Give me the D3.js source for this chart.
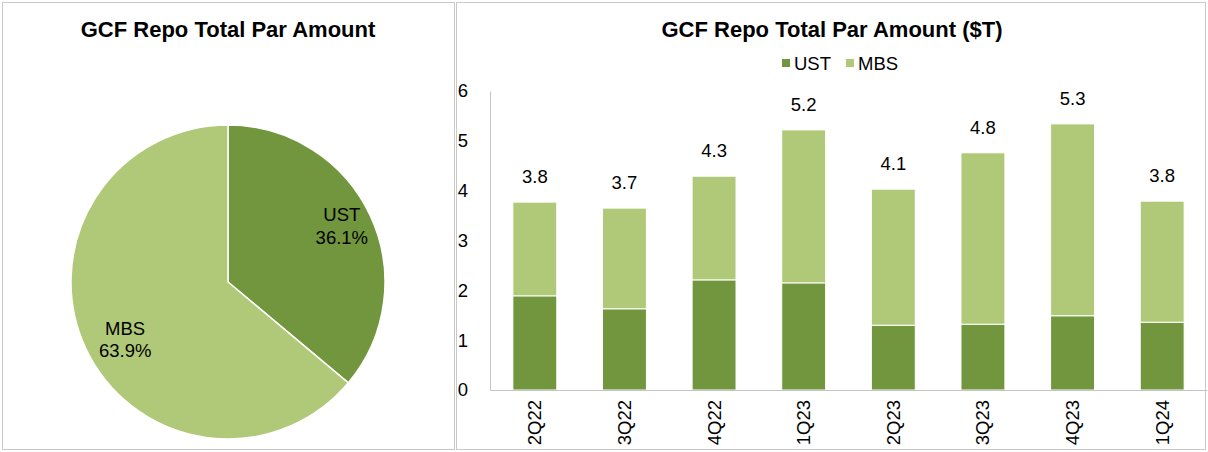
<!DOCTYPE html>
<html>
<head>
<meta charset="utf-8">
<script src="https://cdn.jsdelivr.net/npm/d3@7"></script>
<style>
  body { margin: 0; background: #fff; }
  svg { font-family: "Liberation Sans", Arial, sans-serif; }
</style>
</head>
<body>
<svg id="chart" width="1208" height="452"></svg>
<script>
// ------------------------------------------------------
// DATA
// ------------------------------------------------------
var quarters = ["2Q22", "3Q22", "4Q22", "1Q23", "2Q23", "3Q23", "4Q23", "1Q24"];
var ustValues = [1.89, 1.63, 2.21, 2.15, 1.30, 1.32, 1.49, 1.36];
var mbsValues = [1.88, 2.02, 2.08, 3.07, 2.73, 3.44, 3.85, 2.43];
var totalLabels = ["3.8", "3.7", "4.3", "5.2", "4.1", "4.8", "5.3", "3.8"];
var yTicks = [0, 1, 2, 3, 4, 5, 6];

var pieNames = ["UST", "MBS"];
var pieShares = [36.1, 63.9];

var colors = { UST: "#71963e", MBS: "#b0c978" };
var fontSize = 18.5;
// small nudges so the pie labels sit where excel put them
var pieLabelNudge = { UST: [6, -2], MBS: [5, 11] };

var svg = d3.select("#chart");

// ------------------------------------------------------
// panel frames
// ------------------------------------------------------
svg.append("rect").attr("x", 2.5).attr("y", 2.5).attr("width", 452).attr("height", 447)
    .attr("fill", "none").attr("stroke", "#c9c9c9");
svg.append("rect").attr("x", 456.5).attr("y", 2.5).attr("width", 749).attr("height", 447)
    .attr("fill", "none").attr("stroke", "#c9c9c9");

// ------------------------------------------------------
// PIE
// ------------------------------------------------------
svg.append("text").attr("x", 228).attr("y", 37).attr("text-anchor", "middle")
    .attr("font-size", 22).attr("font-weight", "bold").text("GCF Repo Total Par Amount");

var pieData = pieNames.map(function(n, i) { return { name: n, value: pieShares[i] }; });
var pie = d3.pie().sort(null).value(function(d) { return d.value; });
var arc = d3.arc().innerRadius(0).outerRadius(157);
var labelArc = d3.arc().innerRadius(119).outerRadius(119);

var pg = svg.append("g").attr("transform", "translate(228,282)");
pg.selectAll("path").data(pie(pieData)).enter().append("path")
    .attr("d", arc)
    .attr("fill", function(d) { return colors[d.data.name]; })
    .attr("stroke", "#fff").attr("stroke-width", 1.5);

var pl = pg.selectAll("text.lbl").data(pie(pieData)).enter().append("text")
    .attr("class", "lbl")
    .attr("transform", function(d) {
        var c = labelArc.centroid(d);
        var n = pieLabelNudge[d.data.name];
        return "translate(" + (c[0] + n[0]) + "," + (c[1] + n[1]) + ")";
    })
    .attr("text-anchor", "middle").attr("font-size", fontSize);
pl.append("tspan").attr("x", 0).attr("dy", "-0.45em").text(function(d) { return d.data.name; });
pl.append("tspan").attr("x", 0).attr("dy", "1.2em").text(function(d) { return d.data.value.toFixed(1) + "%"; });

// ------------------------------------------------------
// STACKED BARS
// ------------------------------------------------------
svg.append("text").attr("x", 832).attr("y", 37).attr("text-anchor", "middle")
    .attr("font-size", 22).attr("font-weight", "bold").text("GCF Repo Total Par Amount ($T)");

// legend
var legend = svg.append("g").attr("font-size", fontSize);
[["UST", 782], ["MBS", 846]].forEach(function(l) {
    legend.append("rect").attr("x", l[1]).attr("y", 59).attr("width", 8).attr("height", 8)
        .attr("fill", colors[l[0]]);
    legend.append("text").attr("x", l[1] + 12).attr("y", 70).text(l[0]);
});

var x = d3.scaleBand().domain(quarters).range([490, 1207]).paddingInner(0.51).paddingOuter(0.255);
var y = d3.scaleLinear().domain([0, 6]).range([390, 91]);

var stackRows = quarters.map(function(q, i) { return { q: q, UST: ustValues[i], MBS: mbsValues[i] }; });
var series = d3.stack().keys(["UST", "MBS"])(stackRows);

var bg = svg.append("g");
bg.selectAll("g").data(series).enter().append("g")
    .attr("fill", function(s) { return colors[s.key]; })
    .selectAll("rect").data(function(s) { return s; }).enter().append("rect")
    .attr("x", function(d) { return x(d.data.q); })
    .attr("width", x.bandwidth())
    .attr("y", function(d) { return y(d[1]); })
    .attr("height", function(d) { return y(d[0]) - y(d[1]); })
    .attr("stroke", "#fff").attr("stroke-width", 1);

// total labels
svg.append("g").selectAll("text").data(stackRows).enter().append("text")
    .attr("x", function(d) { return x(d.q) + x.bandwidth() / 2; })
    .attr("y", function(d) { return y(d.UST + d.MBS) - 19; })
    .attr("text-anchor", "middle").attr("font-size", fontSize)
    .text(function(d, i) { return totalLabels[i]; });

// axes
var yAxis = svg.append("g").attr("transform", "translate(490,0)")
    .call(d3.axisLeft(y).tickValues(yTicks).tickFormat(d3.format("d")).tickSize(0).tickPadding(22));
yAxis.select(".domain").attr("stroke", "#c4c4c4");
yAxis.selectAll("text").attr("font-size", fontSize).attr("font-family", "Liberation Sans, Arial, sans-serif")
    .attr("fill", "#000");

var xAxis = svg.append("g").attr("transform", "translate(0,390)")
    .call(d3.axisBottom(x).tickSize(0).tickPadding(0));
xAxis.select(".domain").attr("stroke", "#c4c4c4");
xAxis.selectAll("text").attr("font-size", fontSize).attr("font-family", "Liberation Sans, Arial, sans-serif")
    .attr("fill", "#000")
    .attr("transform", "rotate(-90)")
    .attr("text-anchor", "end")
    .attr("x", -10).attr("y", 0).attr("dy", "0.35em");
</script>
</body>
</html>
